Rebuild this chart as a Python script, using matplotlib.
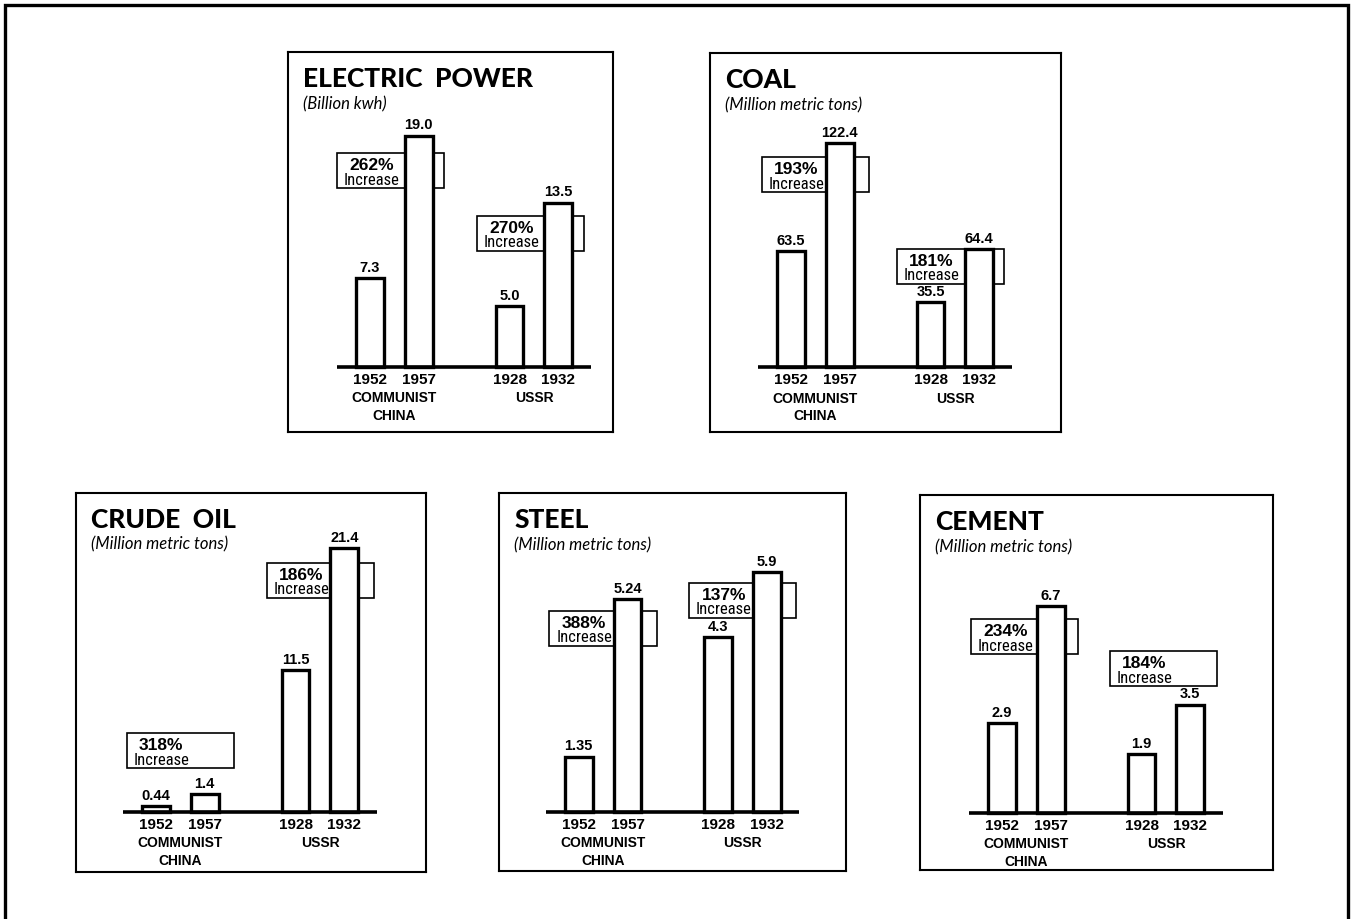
import matplotlib
matplotlib.use("Agg")
from matplotlib import pyplot as plt
from matplotlib import font_manager
from matplotlib.patches import Rectangle

# values
years = ["1952", "1957", "1928", "1932"]
groups = ["COMMUNIST\nCHINA", "USSR"]

titles = ["ELECTRIC  POWER", "COAL", "CRUDE  OIL", "STEEL", "CEMENT"]
units = ["(Billion kwh)", "(Million metric tons)", "(Million metric tons)",
         "(Million metric tons)", "(Million metric tons)"]

electric = ["7.3", "19.0", "5.0", "13.5"]
coal = ["63.5", "122.4", "35.5", "64.4"]
crude = ["0.44", "1.4", "11.5", "21.4"]
steel = ["1.35", "5.24", "4.3", "5.9"]
cement = ["2.9", "6.7", "1.9", "3.5"]

china_increase = ["262%", "193%", "318%", "388%", "234%"]
ussr_increase = ["270%", "181%", "186%", "137%", "184%"]

# layout: panel box (left, top, right, bottom) in px, first bar centre px,
# baseline px, px per value unit
W, H = 1354, 919
layout = [
    ((287.5, 52, 612.5, 432), 370, 366.7, 12.15),
    ((710, 53, 1061, 432.3), 791, 367.3, 1.83),
    ((76, 492.7, 426, 872), 156, 811.7, 12.3),
    ((499, 493.3, 846, 871), 578.7, 811.7, 40.6),
    ((920, 495, 1273, 870), 1002, 812.7, 30.8),
]
# increase boxes: (left in slot units, top in value units) china / ussr
boxes = [
    [(-0.68, 17.59), (2.19, 12.43)],
    [(-0.60, 114.8), (2.17, 64.8)],
    [(-0.60, 6.37), (2.27, 20.24)],
    [(-0.60, 4.95), (2.26, 5.64)],
    [(-0.635, 6.28), (2.21, 5.25)],
]
pos = [0, 1, 2.86, 3.86]
slot = 48.8  # px per bar slot

names = {f.name for f in font_manager.fontManager.ttflist}


def pick(*cands):
    return next((c for c in cands if c in names), "DejaVu Sans")


title_font = pick("Lato", "Open Sans", "DejaVu Sans")
label_font = pick("Liberation Sans", "Arial", "DejaVu Sans")
narrow_font = pick("Liberation Sans Narrow", "Roboto Condensed", "Liberation Sans")
inc_size = 12 if narrow_font != "Liberation Sans" else 10.5

fig = plt.figure(figsize=(W / 100, H / 100), dpi=100)

# outer frame of the page
fig.patches.append(Rectangle((5 / W, -0.05), (1348 - 5) / W, 1 - 5 / H + 0.05,
                             transform=fig.transFigure, fill=False,
                             edgecolor="black", lw=2.4, clip_on=False))

all_vals = [electric, coal, crude, steel, cement]

for i in range(5):
    (L, T, R, B), c0, base, s = layout[i]
    ax = fig.add_axes([L / W, 1 - B / H, (R - L) / W, (B - T) / H])
    x0 = -(c0 - L) / slot
    ax.set_xlim(x0, x0 + (R - L) / slot)
    ax.set_ylim(-(B - base) / s, (base - T) / s)
    ax.set_xticks([])
    ax.set_yticks([])
    for sp in ax.spines.values():
        sp.set_linewidth(1.5)

    vals = [float(v) for v in all_vals[i]]
    ax.bar(pos, vals, width=0.57, facecolor="white", edgecolor="black",
           linewidth=2.4, zorder=3)
    ax.plot([-0.67, 4.52], [0, 0], color="black", lw=2.6,
            solid_capstyle="butt", zorder=4)

    for p, v, txt, yr in zip(pos, vals, all_vals[i], years):
        ax.annotate(txt, (p, v), xytext=(0, 7.5), textcoords="offset points",
                    ha="center", va="center", fontsize=10.5, weight="bold",
                    family=label_font, zorder=5)
        ax.annotate(yr, (p, 0), xytext=(0, -9.5), textcoords="offset points",
                    ha="center", va="center", fontsize=11, weight="bold",
                    family=label_font)

    for gx, g in zip([0.5, 3.36], groups):
        for k, line in enumerate(g.split("\n")):
            ax.annotate(line, (gx, 0), xytext=(0, -22.7 - 12.7 * k),
                        textcoords="offset points", ha="center", va="center",
                        fontsize=10, weight="bold", family=label_font)

    # increase boxes sit behind the bars
    box_h = 35 / s
    for (bl, bt), pct in zip(boxes[i], [china_increase[i], ussr_increase[i]]):
        ax.add_patch(Rectangle((bl, bt - box_h), 2.2, box_h, facecolor="white",
                               edgecolor="black", lw=1.2, zorder=2))
        ax.annotate(pct, (bl + 0.71, bt), xytext=(0, -9),
                    textcoords="offset points", ha="center", va="center",
                    fontsize=12.5, weight="bold", family=label_font, zorder=2.5)
        ax.annotate("Increase", (bl + 0.71, bt), xytext=(0, -19.5),
                    textcoords="offset points", ha="center", va="center",
                    fontsize=inc_size, family=narrow_font, zorder=2.5)

    ax.annotate(titles[i], (0, 1), xycoords="axes fraction", xytext=(11, -19.5),
                textcoords="offset points", ha="left", va="center",
                fontsize=19, weight="black", family=title_font)
    ax.annotate(units[i], (0, 1), xycoords="axes fraction", xytext=(11, -37.5),
                textcoords="offset points", ha="left", va="center",
                fontsize=12, style="italic", family=title_font)

plt.savefig("out.png", dpi=100)
